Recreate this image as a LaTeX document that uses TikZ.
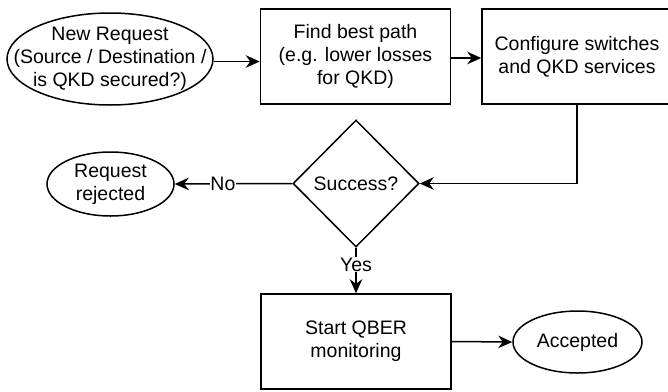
\documentclass[tikz,border=0pt]{standalone}
\usepackage{fontspec}
\setmainfont{Liberation Sans}
\usetikzlibrary{arrows.meta,shapes.geometric}
\begin{document}
\begin{tikzpicture}[x=1pt,y=-1pt,
  every node/.style={font=\fontsize{19.5}{22.8}\selectfont, align=center, line width=1.5pt, inner sep=0pt},
  proc/.style={draw, rectangle, minimum width=190pt, minimum height=95pt},
  term/.style={draw, ellipse},
  decis/.style={draw, diamond, minimum width=126pt, minimum height=127pt},
  conn/.style={line width=1.5pt, -{Stealth[length=14pt,width=12.5pt,inset=4.5pt]}},
  lbl/.style={fill=white, inner sep=0.5pt}]
\useasboundingbox (0,0) rectangle (668,391);
\node[term, inner xsep=-30pt, inner ysep=-4pt, minimum width=206pt, minimum height=92pt] (req) at (110,59) {New Request\\(Source / Destination /\\is QKD secured?)};
\node[proc] (path) at (355.5,56.5) {Find best path\\(e.g. lower losses\\for QKD)};
\node[proc] (conf) at (577,56.5) {Configure switches\\and QKD services};
\node[decis] (succ) at (356,183.5) {Success?};
\node[term, minimum width=127pt, minimum height=64pt] (rej) at (110.5,184) {Request\\rejected};
\node[proc, minimum height=95pt] (qber) at (356,341.5) {Start QBER\\monitoring};
\node[term, minimum width=129pt, minimum height=62pt] (acc) at (577.5,342) {Accepted};
\coordinate (bend) at (577,183.5);
\draw[conn] (req.east |- 0,61.5) -- (path.west |- 0,61.5);
\draw[conn] (path.east |- 0,58) -- (conf.west |- 0,58);
\draw[conn] (conf.south -| bend) -- (bend) -- (succ.east);
\draw[conn] (succ.west) -- node[lbl, pos=0.59] (no) {No} (rej.east);
\draw[conn] (succ.south) -- node[lbl, pos=0.37] (yes) {Yes} (qber.north);
\draw[conn] (qber.east) -- (acc.west);
\end{tikzpicture}
\end{document}
